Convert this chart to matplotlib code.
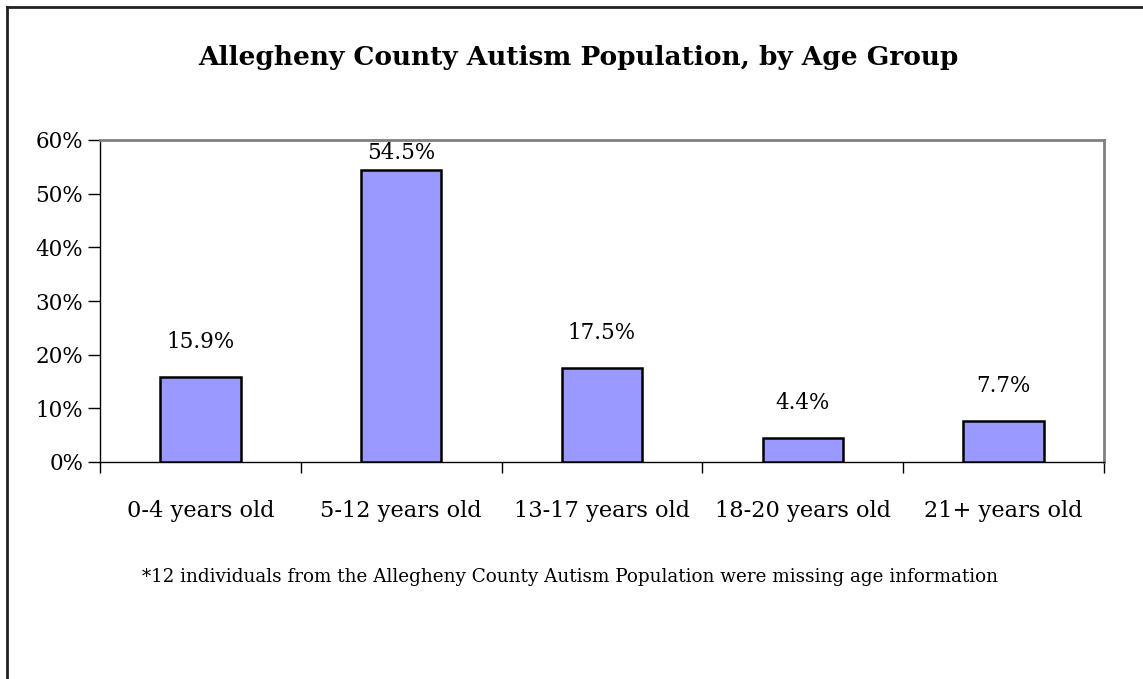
import matplotlib
matplotlib.use("Agg")
import matplotlib.pyplot as plt
from matplotlib.lines import Line2D
from matplotlib.ticker import FuncFormatter, FixedLocator
import numpy as np

categories = ["0-4 years old", "5-12 years old", "13-17 years old", "18-20 years old", "21+ years old"]
values = [15.9, 54.5, 17.5, 4.4, 7.7]
value_labels = ["15.9%", "54.5%", "17.5%", "4.4%", "7.7%"]
yticks = [0, 10, 20, 30, 40, 50, 60]
title = "Allegheny County Autism Population, by Age Group"
footnote = "*12 individuals from the Allegheny County Autism Population were missing age information"

plt.rcParams['font.family'] = ['DejaVu Serif']

W, H = 1143, 679
fig = plt.figure(figsize=(W / 100, H / 100), dpi=100)
fig.patch.set_facecolor('white')

# figure border (left and top)
fig.add_artist(Line2D([7 / W, 7 / W], [0, 1 - 7 / H], transform=fig.transFigure, color='#222222', lw=2))
fig.add_artist(Line2D([7 / W, 1], [1 - 7 / H, 1 - 7 / H], transform=fig.transFigure, color='#222222', lw=2))

ax = fig.add_axes([100 / W, 1 - 462 / H, (1104 - 100) / W, (462 - 140) / H])
x = np.arange(len(categories))
ax.bar(x, values, width=0.4, color='#9999FF', edgecolor='black', linewidth=1.8, zorder=3)
ax.set_xlim(-0.5, len(categories) - 0.5)
ax.set_ylim(0, 60)

FS = 15.5
ax.set_yticks(yticks)
ax.yaxis.set_major_formatter(FuncFormatter(lambda v, p: f"{int(v)}%"))
ax.tick_params(axis='y', direction='out', length=9, width=1, labelsize=FS, pad=3, colors='black')
ax.xaxis.set_major_locator(FixedLocator(x))
ax.set_xticklabels(categories)
ax.xaxis.set_minor_locator(FixedLocator(np.arange(-0.5, len(categories), 1.0)))
ax.tick_params(axis='x', which='major', length=0, labelsize=16.2, pad=27)
ax.tick_params(axis='x', which='minor', direction='out', length=8, width=1)

for s in ['top', 'right']:
    ax.spines[s].set_color('#808080')
    ax.spines[s].set_linewidth(2)
for s in ['left', 'bottom']:
    ax.spines[s].set_color('black')
    ax.spines[s].set_linewidth(1)

# value labels: ~24px above bar top, clamped to stay inside the plot area
px_per_unit = (462 - 140) / 60.0
for xi, v, lab in zip(x, values, value_labels):
    space_px = (60 - v) * px_per_unit
    off_px = min(24, space_px - 24)
    ax.annotate(lab, (xi, v), xytext=(0, off_px * 0.72), textcoords='offset points',
                ha='center', va='bottom', fontsize=FS)

fig.text(578 / W, 1 - 58 / H, title, ha='center', va='center', fontsize=19, fontweight='bold')
fig.text(570 / W, 1 - 577 / H, footnote, ha='center', va='center', fontsize=13.2)

fig.savefig('out.png', dpi=100)
